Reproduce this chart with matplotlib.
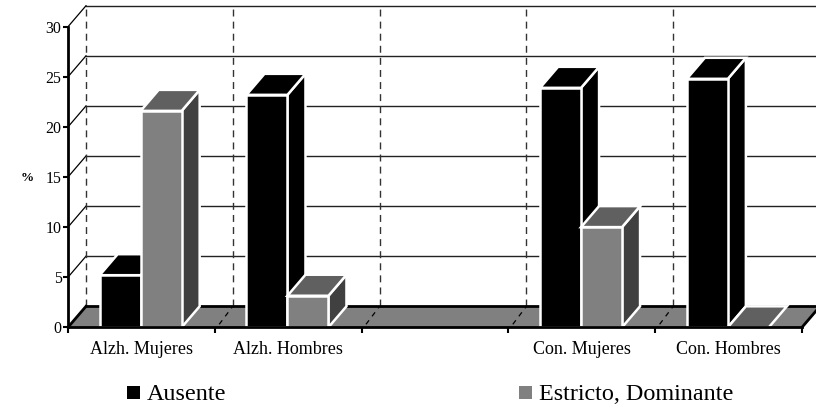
import matplotlib
matplotlib.use('Agg')
import matplotlib.pyplot as plt
from matplotlib.patches import Polygon, Rectangle

plt.rcParams['font.family'] = ['Liberation Serif', 'DejaVu Serif']

# values
categories = ['Alzh. Mujeres', 'Alzh. Hombres', '', 'Con. Mujeres', 'Con. Hombres']
ausente = [5.2, 23.2, 0, 23.9, 24.8]
estricto = [21.6, 3.15, 0, 10.0, 0]
y_ticks = [0, 5, 10, 15, 20, 25, 30]

# depth of the fake 3d box, in data units
DX = 18 / 146.8
DY = 21 / 10.02
BAR_W = 41 / 146.8


def draw_bar(ax, x, h, front, top, side, z):
    # side, top, then front face, white edges all round
    side_pts = [(x + BAR_W, 0), (x + BAR_W + DX, DY), (x + BAR_W + DX, h + DY), (x + BAR_W, h)]
    top_pts = [(x, h), (x + DX, h + DY), (x + BAR_W + DX, h + DY), (x + BAR_W, h)]
    if h > 0:
        ax.add_patch(Polygon(side_pts, fc=side, ec='white', lw=1.8, zorder=z, clip_on=False))
    ax.add_patch(Polygon(top_pts, fc=top, ec='white', lw=1.8, zorder=z, clip_on=False))
    if h > 0:
        ax.add_patch(Rectangle((x, 0), BAR_W, h, fc=front, ec='white', lw=1.8, zorder=z, clip_on=False))


fig = plt.figure(figsize=(8.16, 4.08), dpi=100)
ax = fig.add_axes([68 / 816, (408 - 327.3) / 408, 734 / 816, 300.6 / 408])
n = len(categories)
ax.set_xlim(0, n)
ax.set_ylim(0, 30)

# back wall grid
for v in y_ticks[1:]:
    ax.plot([DX, n + DX], [v + DY, v + DY], color='#222222', lw=1, zorder=1, clip_on=False)
    ax.plot([0, DX], [v, v + DY], color='black', lw=0.9, zorder=1, clip_on=False)
for i in range(n):
    ax.plot([i + DX, i + DX], [DY, 30 + DY], color='#333333', lw=1, ls=(0, (5, 3.7)),
            zorder=1, clip_on=False)

# floor
floor = [(0, 0), (DX, DY), (n + DX, DY), (n, 0)]
ax.add_patch(Polygon(floor, fc='#808080', ec='none', zorder=2, clip_on=False))
ax.plot([DX, n + DX], [DY, DY], color='black', lw=2, zorder=2, clip_on=False)
ax.plot([0, DX], [0, DY], color='black', lw=2, zorder=2, clip_on=False)
ax.plot([n, n + DX], [0, DY], color='black', lw=2, zorder=2, clip_on=False)
for i in range(1, n):
    ax.plot([i + 0.03, i + DX], [0.3, DY], color='black', lw=0.9, ls=(0, (4, 4)),
            zorder=2, clip_on=False)

# bars, left to right so nearer ones overlap
for i in range(n):
    if categories[i] == '':
        continue
    mid = i + 0.495
    draw_bar(ax, mid - BAR_W, ausente[i], 'black', 'black', 'black', 3 + i * 2)
    draw_bar(ax, mid, estricto[i], '#808080', '#606060', '#404040', 4 + i * 2)

# axes
for s in ['top', 'right']:
    ax.spines[s].set_visible(False)
ax.spines['left'].set_linewidth(2)
ax.spines['bottom'].set_linewidth(2)
ax.spines['left'].set_zorder(20)
ax.spines['bottom'].set_zorder(20)
ax.patch.set_alpha(0)
ax.set_yticks(y_ticks)
ax.set_xticks(range(n + 1))
ax.set_xticklabels([])
ax.set_xticks([i + 0.5 for i in range(n)], minor=True)
ax.set_xticklabels(categories, minor=True, fontsize=13)
ax.tick_params(axis='x', which='major', length=4.5, width=1.5, direction='out')
ax.tick_params(axis='x', which='minor', length=0, pad=10)
ax.tick_params(axis='y', length=3.6, width=1.5, labelsize=11.4, pad=1)

fig.text(27.5 / 816, 1 - 178 / 408, '%', fontsize=9.4, fontweight='bold', ha='center', va='center')

# legend
fig.add_artist(Rectangle((127 / 816, 1 - 399 / 408), 12.5 / 816, 13 / 408, fc='black', ec='none',
                         transform=fig.transFigure))
fig.text(147 / 816, 1 - 400 / 408, 'Ausente', fontsize=17.4, ha='left', va='baseline')
fig.add_artist(Rectangle((519 / 816, 1 - 399 / 408), 12.5 / 816, 13 / 408, fc='#808080', ec='none',
                         transform=fig.transFigure))
fig.text(539 / 816, 1 - 400 / 408, 'Estricto, Dominante', fontsize=17.4, ha='left', va='baseline')

fig.savefig('out.png', dpi=100)
